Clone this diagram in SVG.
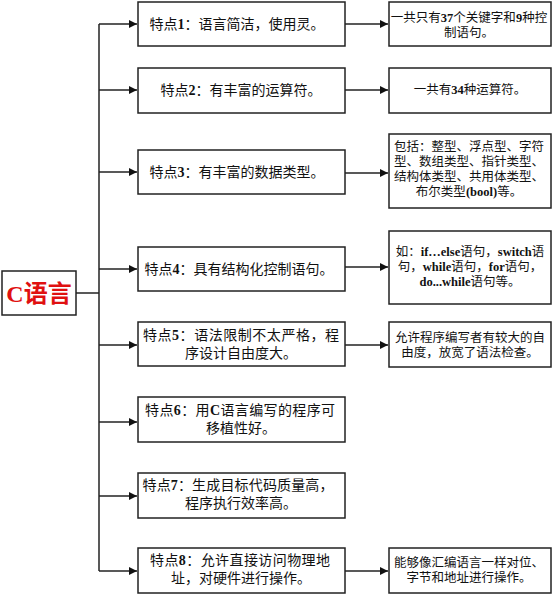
<svg xmlns="http://www.w3.org/2000/svg" width="554" height="600" viewBox="0 0 554 600">
<style>
.bg{fill:#fff}
.box{fill:#fff;stroke:#222;stroke-width:1.5}
.ln{stroke:#222;stroke-width:1.5;fill:none}
.t{font-family:"Liberation Serif","Noto Sans CJK SC",serif;fill:#111;text-anchor:middle}
.m{font-size:14px}
.s{font-size:12.5px}
.b{font-weight:bold}
.root{font-family:"Liberation Serif","Noto Sans CJK SC",serif;font-size:24px;font-weight:bold;fill:#e01010;text-anchor:middle}
</style>
<defs>
<marker id="ah" markerUnits="userSpaceOnUse" markerWidth="9" markerHeight="9" refX="8" refY="4" orient="auto">
<path d="M0,0 L8,4 L0,8 z" fill="#111"/>
</marker>
</defs>
<rect class="bg" x="0" y="0" width="554" height="600"/>
<g id="connectors">
<line class="ln" x1="76" y1="293" x2="99" y2="293"/>
<line class="ln" x1="99" y1="24" x2="99" y2="571"/>
<line class="ln" x1="99" y1="24" x2="137" y2="24" marker-end="url(#ah)"/>
<line class="ln" x1="99" y1="90" x2="137" y2="90" marker-end="url(#ah)"/>
<line class="ln" x1="99" y1="172" x2="137" y2="172" marker-end="url(#ah)"/>
<line class="ln" x1="99" y1="269" x2="137" y2="269" marker-end="url(#ah)"/>
<line class="ln" x1="99" y1="345" x2="137" y2="345" marker-end="url(#ah)"/>
<line class="ln" x1="99" y1="422" x2="137" y2="422" marker-end="url(#ah)"/>
<line class="ln" x1="99" y1="496" x2="137" y2="496" marker-end="url(#ah)"/>
<line class="ln" x1="99" y1="571" x2="137" y2="571" marker-end="url(#ah)"/>
<line class="ln" x1="345" y1="24" x2="388" y2="24" marker-end="url(#ah)"/>
<line class="ln" x1="345" y1="90" x2="388" y2="90" marker-end="url(#ah)"/>
<line class="ln" x1="345" y1="173" x2="388" y2="173" marker-end="url(#ah)"/>
<line class="ln" x1="345" y1="267" x2="388" y2="267" marker-end="url(#ah)"/>
<line class="ln" x1="345" y1="345" x2="388" y2="345" marker-end="url(#ah)"/>
<line class="ln" x1="345" y1="571" x2="388" y2="571" marker-end="url(#ah)"/>
</g>
<g id="root">
<rect class="box" x="2" y="271" width="74" height="44"/>
<text class="root" x="39" y="302"><tspan>C</tspan>语言</text>
</g>
<g id="f1">
<rect class="box" x="138" y="2" width="207" height="44"/>
<text class="t m" x="237" y="29">特点<tspan class="b">1</tspan>：语言简洁，使用灵。</text>
</g>
<g id="f2">
<rect class="box" x="138" y="68" width="207" height="45"/>
<text class="t m" x="241" y="95">特点<tspan class="b">2</tspan>：有丰富的运算符。</text>
</g>
<g id="f3">
<rect class="box" x="138" y="150" width="207" height="44"/>
<text class="t m" x="237" y="177">特点<tspan class="b">3</tspan>：有丰富的数据类型。</text>
</g>
<g id="f4">
<rect class="box" x="138" y="247" width="207" height="44"/>
<text class="t m" x="239" y="274">特点<tspan class="b">4</tspan>：具有结构化控制语句。</text>
</g>
<g id="f5">
<rect class="box" x="138" y="322" width="207" height="44"/>
<text class="t m" x="241" y="340" textLength="196" lengthAdjust="spacing">特点<tspan class="b">5</tspan>：语法限制不太严格，程</text>
<text class="t m" x="241" y="358">序设计自由度大。</text>
</g>
<g id="f6">
<rect class="box" x="138" y="397" width="207" height="45"/>
<text class="t m" x="240" y="415" textLength="190" lengthAdjust="spacing">特点<tspan class="b">6</tspan>：用<tspan class="b">C</tspan>语言编写的程序可</text>
<text class="t m" x="241" y="433">移植性好。</text>
</g>
<g id="f7">
<rect class="box" x="138" y="473" width="207" height="45"/>
<text class="t m" x="238" y="490" textLength="191" lengthAdjust="spacing">特点<tspan class="b">7</tspan>：生成目标代码质量高，</text>
<text class="t m" x="241" y="508">程序执行效率高。</text>
</g>
<g id="f8">
<rect class="box" x="138" y="548" width="207" height="45"/>
<text class="t m" x="240" y="565" textLength="180" lengthAdjust="spacing">特点<tspan class="b">8</tspan>：允许直接访问物理地</text>
<text class="t m" x="241" y="583">址，对硬件进行操作。</text>
</g>
<g id="d1">
<rect class="box" x="389" y="2" width="162" height="44"/>
<text class="t s" x="469" y="22">一共只有<tspan class="b">37</tspan>个关键字和<tspan class="b">9</tspan>种控</text>
<text class="t s" x="469" y="37">制语句。</text>
</g>
<g id="d2">
<rect class="box" x="389" y="68" width="162" height="45"/>
<text class="t s" x="470" y="94">一共有<tspan class="b">34</tspan>种运算符。</text>
</g>
<g id="d3">
<rect class="box" x="389" y="134" width="162" height="74"/>
<text class="t s" x="469" y="151">包括：整型、浮点型、字符</text>
<text class="t s" x="469" y="166">型、数组类型、指针类型、</text>
<text class="t s" x="469" y="181">结构体类型、共用体类型、</text>
<text class="t s" x="469" y="196">布尔类型<tspan class="b">(bool)</tspan>等。</text>
</g>
<g id="d4">
<rect class="box" x="389" y="231" width="162" height="73"/>
<text class="t s" x="470" y="256">如：<tspan class="b">if…else</tspan>语句，<tspan class="b">switch</tspan>语</text>
<text class="t s" x="470" y="271">句，<tspan class="b">while</tspan>语句，<tspan class="b">for</tspan>语句，</text>
<text class="t s" x="470" y="286"><tspan class="b">do...while</tspan>语句等。</text>
</g>
<g id="d5">
<rect class="box" x="389" y="322" width="162" height="45"/>
<text class="t s" x="470" y="342">允许程序编写者有较大的自</text>
<text class="t s" x="470" y="357">由度，放宽了语法检查。</text>
</g>
<g id="d8">
<rect class="box" x="389" y="548" width="162" height="45"/>
<text class="t s" x="469" y="567">能够像汇编语言一样对位、</text>
<text class="t s" x="469" y="582">字节和地址进行操作。</text>
</g>
</svg>
